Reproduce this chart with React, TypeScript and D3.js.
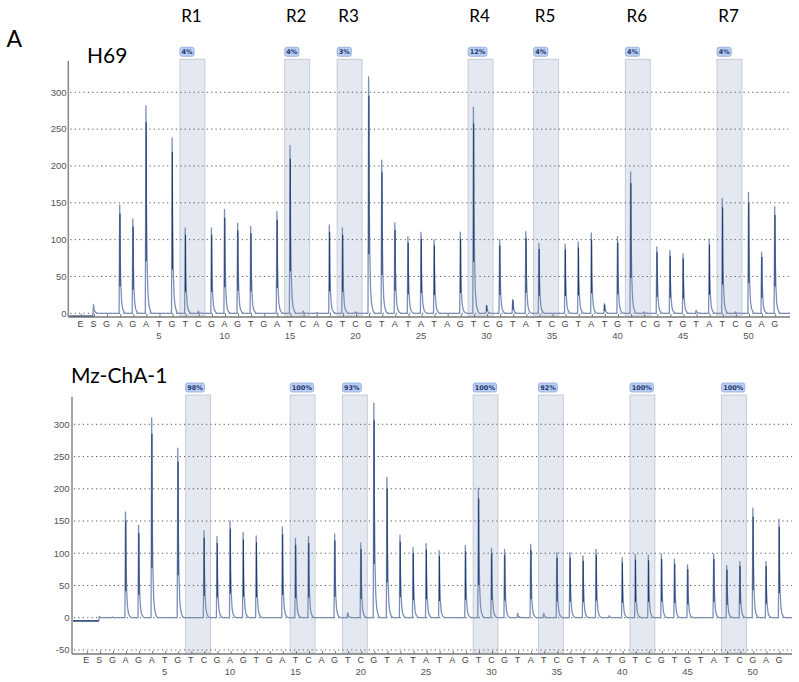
import React from "react";
import * as d3 from "d3";

// Dispensation order (E, S, then nucleotide dispensations 1..52)
const dispensation = ["E","S",
  "G","A","G","A","T","G","T","C","G","A",
  "G","T","G","A","T","C","A","G","T","C",
  "G","T","A","T","A","T","A","G","T","C",
  "G","T","A","T","C","G","T","A","T","G",
  "T","C","G","T","G","T","A","T","C","G",
  "A","G"];

const positionTicks = [5, 10, 15, 20, 25, 30, 35, 40, 45, 50];

// Peak heights (light units) per dispensation
const h69Signal = [0, 12,
  0, 147, 128, 282, 0, 238, 116, 3, 116, 141,
  122, 118, 0, 138, 228, 3, 1, 120, 116, 2,
  321, 208, 123, 104, 110, 100, 0, 110, 280, 11,
  100, 19, 111, 95, 0, 94, 97, 109, 13, 104,
  192, 2, 90, 85, 81, 4, 101, 156, 2, 164,
  83, 145];

const mzSignal = [0, 2,
  1, 164, 143, 310, 0, 263, 0, 135, 126, 150,
  132, 127, 0, 141, 123, 126, 0, 130, 8, 116,
  333, 218, 128, 109, 115, 104, 0, 112, 201, 108,
  106, 7, 114, 7, 101, 101, 96, 106, 3, 93,
  98, 97, 99, 91, 82, 0, 99, 81, 87, 170,
  87, 153];

const h69Lead = -4;
const mzLead = -5;

// CpG regions (dispensation numbers of T and C)
const regionNames = ["R1", "R2", "R3", "R4", "R5", "R6", "R7"];
const regionStart = [7, 15, 19, 29, 34, 41, 48];
const regionEnd = [8, 16, 20, 30, 35, 42, 49];
const h69Meth = ["4%", "4%", "3%", "12%", "4%", "4%", "4%"];
const mzMeth = ["98%", "100%", "93%", "100%", "92%", "100%", "100%"];

const h69Ticks = [0, 50, 100, 150, 200, 250, 300];
const mzTicks = [-50, 0, 50, 100, 150, 200, 250, 300];

type PanelProps = {
  signal: number[];
  lead: number;
  meth: string[];
  yTicks: number[];
  xRange: [number, number];
  yRange: [number, number];
  axisLeft: number;
  axisRight: number;
  axisTop: number;
  axisBottom: number;
  boxTop: number;
  boxBottom: number;
  letterY: number;
  numberY: number;
  labelRight: number;
};

function Panel(p: PanelProps) {
  const x = d3.scaleLinear().domain([0, dispensation.length - 1]).range(p.xRange);
  const y = d3.scaleLinear().domain([0, 300]).range(p.yRange);
  const step = x(1) - x(0);

  // Build trace
  const pts: [number, number][] = [];
  pts.push([p.axisLeft + 1, y(p.lead)]);
  let base = p.lead;
  for (let i = 1; i < p.signal.length; i++) {
    const v = p.signal[i];
    const xi = x(i);
    if (v !== 0) {
      pts.push([xi - 0.6, y(base)]);
      pts.push([xi, y(v)]);
      pts.push([xi + 0.6, y(v * 0.5)]);
      pts.push([xi + 1.2, y(v * 0.25)]);
      pts.push([xi + 2, y(v * 0.1)]);
      pts.push([xi + 3, y(v * 0.04)]);
      pts.push([xi + 4.5, y(v * 0.01)]);
      pts.push([xi + 6, y(0)]);
    } else if (i === 1) {
      pts.push([xi - 0.6, y(base)]);
      pts.push([xi, y(0)]);
    }
    base = 0;
  }
  pts.push([p.axisRight, y(0)]);
  const line = d3.line();

  return (
    <g>
      {regionStart.map((s, k) => {
        const left = x(s + 1) - 0.4 * step;
        const right = x(regionEnd[k] + 1) + 0.5 * step;
        const w = p.meth[k].length * 4.6 + 5;
        return (
          <g key={"r" + k}>
            <rect x={left} y={p.boxTop} width={right - left} height={p.boxBottom - p.boxTop}
              fill="#e4e9f1" stroke="#c6ccd7" strokeWidth={1} />
            <rect x={left} y={p.boxTop - 12} width={w} height={9} rx={2}
              fill="#bccff2" stroke="#8ea8dc" strokeWidth={0.8} />
            <text x={left + w / 2} y={p.boxTop - 5.2} textAnchor="middle"
              fontFamily="DejaVu Sans" fontSize={6.5} fontWeight="bold" fill="#1d3570">
              {p.meth[k]}
            </text>
          </g>
        );
      })}
      {p.yTicks.map((t) => (
        <g key={"g" + t}>
          <line x1={p.axisLeft + 2} x2={p.axisRight} y1={y(t)} y2={y(t)}
            stroke="#555" strokeWidth={1} strokeDasharray="1.2,3.2" />
          <text x={p.labelRight} y={y(t) + 3.3} textAnchor="end"
            fontFamily="Liberation Sans, Arial, sans-serif" fontSize={9.5} fill="#555">{t}</text>
        </g>
      ))}
      <path d={line(pts) || ""} fill="none" stroke="#7c90b6" strokeWidth={1.3} strokeLinejoin="round" />
      <line x1={p.axisLeft + 1} x2={x(1) - 0.6} y1={y(p.lead)} y2={y(p.lead)} stroke="#2b4372" strokeWidth={1.4} />
      {p.signal.map((v, i) =>
        v > 8 && i > 1 ? (
          <line key={"c" + i} x1={x(i) + 0.3} x2={x(i) + 0.3} y1={y(v * 0.25)} y2={y(v * 0.92)}
            stroke="#1e3a6e" strokeWidth={1.1} />
        ) : null
      )}
      <line x1={p.axisLeft} x2={p.axisLeft} y1={p.axisTop} y2={p.axisBottom} stroke="#888" strokeWidth={1.5} />
      <line x1={p.axisLeft} x2={p.axisRight} y1={p.axisBottom} y2={p.axisBottom} stroke="#777" strokeWidth={1.5} />
      {dispensation.map((d, i) => (
        <g key={"x" + i}>
          <line x1={x(i) + 1} x2={x(i) + 1} y1={p.axisBottom} y2={p.axisBottom - 3} stroke="#777" strokeWidth={1} />
          <text x={x(i)} y={p.letterY} textAnchor="middle"
            fontFamily="Liberation Sans, Arial, sans-serif" fontSize={9} fill="#444">{d}</text>
        </g>
      ))}
      {positionTicks.map((t) => (
        <text key={"n" + t} x={x(t + 1)} y={p.numberY} textAnchor="middle"
          fontFamily="Liberation Sans, Arial, sans-serif" fontSize={9.5} fill="#555">{t}</text>
      ))}
    </g>
  );
}

export default function App() {
  const topX = d3.scaleLinear().domain([0, dispensation.length - 1]).range([80.4, 774.7]);
  return (
    <svg width={799} height={682} style={{ position: "absolute", left: 0, top: 0, background: "#fff" }}>
      <rect x={0} y={0} width={799} height={682} fill="#fff" />
      <text x={6.5} y={46.7} fontFamily="Lato, sans-serif" fontSize={23} fill="#000">A</text>
      <text x={87} y={63.3} fontFamily="Lato, sans-serif" fontSize={21} fill="#000">H69</text>
      <text x={71} y={383.3} fontFamily="Lato, sans-serif" fontSize={21} fill="#000">Mz-ChA-1</text>
      {regionNames.map((r, k) => {
        const step = topX(1) - topX(0);
        const left = topX(regionStart[k] + 1) - 0.4 * step;
        const right = topX(regionEnd[k] + 1) + 0.5 * step;
        return (
          <text key={r} x={(left + right) / 2 - 1} y={21.7} textAnchor="middle"
            fontFamily="Lato, sans-serif" fontSize={17} fill="#000">{r}</text>
        );
      })}
      <Panel signal={h69Signal} lead={h69Lead} meth={h69Meth} yTicks={h69Ticks}
        xRange={[80.4, 774.7]} yRange={[313.3, 92.3]}
        axisLeft={68.3} axisRight={790} axisTop={61} axisBottom={317}
        boxTop={59.3} boxBottom={316} letterY={326.5} numberY={338.5} labelRight={66.5} />
      <Panel signal={mzSignal} lead={mzLead} meth={mzMeth} yTicks={mzTicks}
        xRange={[86.3, 779]} yRange={[617.7, 424.3]}
        axisLeft={72} axisRight={792} axisTop={396.7} axisBottom={654}
        boxTop={395} boxBottom={653} letterY={662.5} numberY={675} labelRight={69.5} />
    </svg>
  );
}
